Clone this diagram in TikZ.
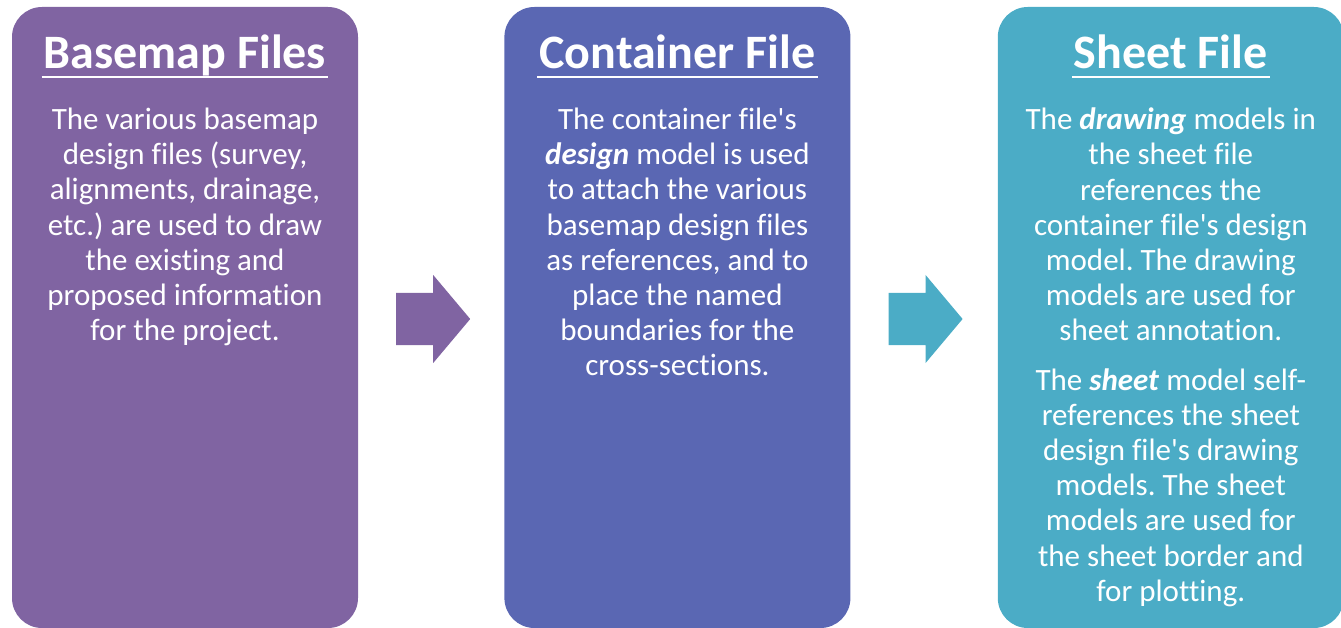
\documentclass[tikz,border=0pt]{standalone}
\usepackage{fontspec}
\setmainfont{Carlito}[Ligatures={NoCommon}]
\usetikzlibrary{positioning,calc}
\definecolor{basemapcol}{HTML}{8064A2}
\definecolor{containercol}{HTML}{5A67B3}
\definecolor{sheetcol}{HTML}{4BACC6}
\tikzset{
    filebox/.style={
           rectangle,
           rounded corners=30pt,
           minimum width=346pt,
           minimum height=621pt,
           inner sep=0pt},
    % Define title and body text styles
    ftitle/.style={
           text=white,
           font=\fontsize{48}{52}\selectfont\bfseries,
           inner sep=0pt,
           anchor=base},
    fbody/.style={
           text=white,
           align=center,
           font=\fontsize{31}{35.2}\selectfont\frenchspacing,
           inner sep=0pt,
           anchor=north},
    uline/.style={
           draw=white,
           line width=2.5pt}
}
\newcommand{\bi}[1]{\textbf{\textit{#1}}}
\newcommand{\apos}{\textquotesingle}

\begin{document}
\begin{tikzpicture}[x=1pt, y=-1pt]
	\useasboundingbox (0,0) rectangle (1341,628);
	\node[filebox, fill=basemapcol] (basemap) at (185,317.5) {};
	\node[filebox, fill=containercol, right=146pt of basemap] (container) {};
	\node[filebox, fill=sheetcol, right=147pt of container] (sheet) {};

	\node[ftitle] (bmtitle) at ($(basemap.north)+(0,62)$) {Basemap Files};
	\node[ftitle] (cttitle) at ($(container.north)+(0,62)$) {Container File};
	\node[ftitle] (shtitle) at ($(sheet.north)+(0,62)$) {Sheet File};
	\foreach \t in {bmtitle,cttitle,shtitle}
		\path [uline] ($(\t.base west)+(-2,8)$) -- ($(\t.base east)+(2,8)$);

	\node[fbody] (bmtext) at ($(basemap.north)+(0,101)$) {The various basemap\\design files (survey,\\alignments, drainage,\\etc.) are used to draw\\the existing and\\proposed information\\for the project.};
	\node[fbody] (cttext) at ($(container.north)+(0,101)$) {The container file\apos s\\\bi{design} model is used\\to attach the various\\basemap design files\\as references, and to\\place the named\\boundaries for the\\cross-sections.};
	\node[fbody] (shtext) at ($(sheet.north)+(0,101)$) {The \bi{drawing} models in\\the sheet file\\references the\\container file\apos s design\\model. The drawing\\models are used for\\sheet annotation.\\[14pt]The \bi{sheet} model self-\\references the sheet\\design file\apos s drawing\\models. The sheet\\models are used for\\the sheet border and\\for plotting.};

	% block arrows between the boxes
	\coordinate (arra) at ($(basemap.east)+(38,1.5)$);
	\coordinate (arrb) at ($(container.east)+(38,1.5)$);
	\fill[basemapcol] (arra) ++(0,-26) -- ++(37,0) -- ++(0,-18) -- ++(37,44) -- ++(-37,44) -- ++(0,-18) -- ++(-37,0) -- cycle;
	\fill[sheetcol] (arrb) ++(0,-26) -- ++(37,0) -- ++(0,-18) -- ++(37,44) -- ++(-37,44) -- ++(0,-18) -- ++(-37,0) -- cycle;
\end{tikzpicture}
\end{document}
